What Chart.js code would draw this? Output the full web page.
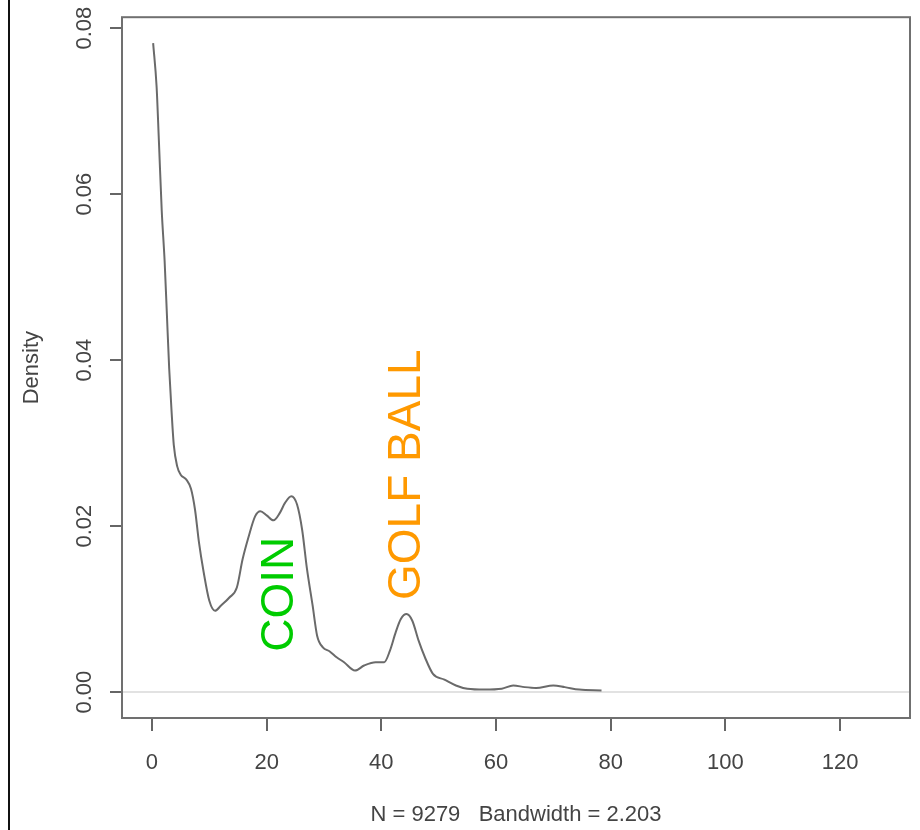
<!DOCTYPE html>
<html>
<head>
<meta charset="utf-8">
<title>Density</title>
<script src="https://cdn.jsdelivr.net/npm/chart.js@4.4.1/dist/chart.umd.min.js"></script>
<style>
  html, body { margin: 0; padding: 0; background: #fff; }
  #wrap { position: relative; width: 920px; height: 830px; }
  #edge { position: absolute; left: 8px; top: 0; width: 2px; height: 830px; background: #111; }
</style>
</head>
<body>
<div id="wrap">
  <canvas id="densidade" width="920" height="830"></canvas>
  <div id="edge"></div>
</div>
<script>
// curva de densidade (kernel) dos tamanhos
const densX = [0.2, 0.8, 1.2, 1.7, 2.2, 2.6, 3.0, 3.4, 3.8, 4.4, 5.0, 6.0, 6.8, 7.5, 8.2, 9.0, 10.0, 11.0, 12.0, 13.5, 14.8, 15.8, 16.8, 18.0, 18.9, 20.0, 21.2, 22.3, 23.2, 24.3, 25.3, 26.2, 27.0, 28.0, 28.8, 29.8, 31.0, 32.2, 33.5, 35.4, 37.0, 39.0, 40.5, 41.5, 42.5, 43.4, 44.4, 45.4, 46.5, 47.6, 49.0, 51.0, 53.0, 55.0, 58.0, 61.0, 63.0, 65.0, 67.0, 70.0, 72.0, 74.5, 78.4];
const densY = [0.0782, 0.0730, 0.0665, 0.0580, 0.0520, 0.0455, 0.0390, 0.0340, 0.0298, 0.0272, 0.0262, 0.0256, 0.0245, 0.0220, 0.0180, 0.0145, 0.0110, 0.0098, 0.0104, 0.0114, 0.0126, 0.0160, 0.0186, 0.0212, 0.0218, 0.0213, 0.0207, 0.0216, 0.0228, 0.0236, 0.0226, 0.0195, 0.0150, 0.0105, 0.0068, 0.0054, 0.0049, 0.0042, 0.0036, 0.0026, 0.0032, 0.0036, 0.0036, 0.0050, 0.0072, 0.0088, 0.0094, 0.0086, 0.0062, 0.0042, 0.0022, 0.0015, 0.0008, 0.0004, 0.0003, 0.0004, 0.0008, 0.0006, 0.0005, 0.0008, 0.0006, 0.0003, 0.0002];

// marcas dos eixos
const ticksX = [0, 20, 40, 60, 80, 100, 120];
const ticksY = [0, 0.02, 0.04, 0.06, 0.08];

// rótulos escritos sobre os picos
const rotulos = ['COIN', 'GOLF BALL'];
const rotuloX = [24.6, 46.7];
const rotuloY = [0.0118, 0.0262];
const rotuloCor = ['#00cc00', '#ff9900'];

const fonte = 'Liberation Sans, Arial, sans-serif';

// moldura em volta da área do gráfico + textos girados
const estiloR = {
  id: 'estiloR',
  afterDatasetsDraw(chart) {
    const { ctx, chartArea: a, scales } = chart;
    ctx.save();
    ctx.strokeStyle = '#707070';
    ctx.lineWidth = 2;
    ctx.strokeRect(a.left, a.top, a.right - a.left, a.bottom - a.top);

    ctx.font = '46px ' + fonte;
    ctx.textAlign = 'center';
    ctx.textBaseline = 'alphabetic';
    rotulos.forEach((txt, i) => {
      const px = scales.x.getPixelForValue(rotuloX[i]);
      const py = scales.y.getPixelForValue(rotuloY[i]);
      ctx.save();
      ctx.translate(px, py);
      ctx.rotate(-Math.PI / 2);
      ctx.fillStyle = rotuloCor[i];
      ctx.fillText(txt, 0, 0);
      ctx.restore();
    });
    ctx.restore();
  }
};

const pontos = densX.map((x, i) => ({ x: x, y: densY[i] }));

new Chart(document.getElementById('densidade'), {
  type: 'line',
  data: {
    datasets: [{
      data: pontos,
      borderColor: '#6a6a6a',
      borderWidth: 2,
      pointRadius: 0,
      fill: false,
      cubicInterpolationMode: 'monotone'
    }]
  },
  options: {
    responsive: false,
    animation: false,
    devicePixelRatio: 1,
    layout: { padding: { top: 13, right: 10, left: 0, bottom: 0 } },
    plugins: { legend: { display: false }, tooltip: { enabled: false } },
    scales: {
      x: {
        type: 'linear',
        min: -5.23,
        max: 132.2,
        afterBuildTicks: (s) => { s.ticks = ticksX.map(v => ({ value: v })); },
        afterFit: (s) => { s.height = 112; },
        border: { display: false },
        grid: { drawOnChartArea: false, tickLength: 13, tickColor: '#666', lineWidth: 2 },
        ticks: { color: '#444', padding: 19, font: { family: fonte, size: 22 }, maxRotation: 0 },
        title: {
          display: true,
          text: 'N = 9279   Bandwidth = 2.203',
          color: '#444',
          font: { family: fonte, size: 22 },
          padding: { top: 0, bottom: 2 }
        }
      },
      y: {
        type: 'linear',
        min: -0.00312,
        max: 0.08132,
        afterBuildTicks: (s) => { s.ticks = ticksY.map(v => ({ value: v })); },
        afterFit: (s) => { s.width = 122; },
        border: { display: false },
        grid: {
          drawOnChartArea: true,
          color: (c) => (c.tick && c.tick.value === 0 ? '#e2e2e2' : 'rgba(0,0,0,0)'),
          tickColor: '#666',
          tickLength: 12,
          lineWidth: 2
        },
        ticks: {
          color: '#444',
          padding: 4,
          minRotation: 90,
          maxRotation: 90,
          crossAlign: 'center',
          font: { family: fonte, size: 22 },
          callback: (v) => Number(v).toFixed(2)
        },
        title: {
          display: true,
          text: 'Density',
          color: '#444',
          font: { family: fonte, size: 22 },
          padding: { top: 19, bottom: 0 }
        }
      }
    }
  },
  plugins: [estiloR]
});
</script>
</body>
</html>
